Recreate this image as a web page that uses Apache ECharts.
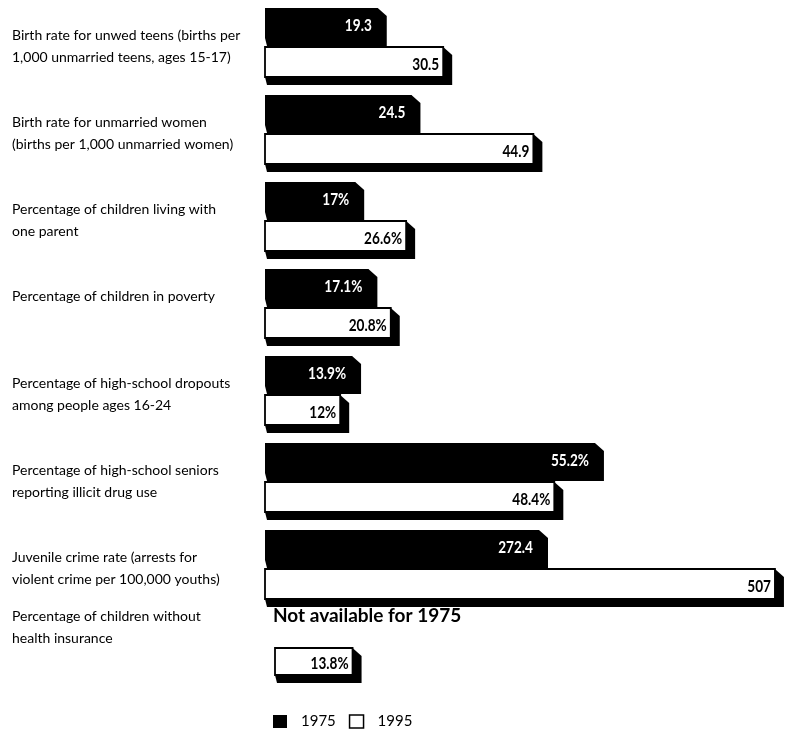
<!DOCTYPE html>
<html><head><meta charset="utf-8">
<script src="https://cdn.jsdelivr.net/npm/echarts@6/dist/echarts.min.js"></script>
<style>html,body{margin:0;padding:0;background:#fff}#c{width:792px;height:732px}</style>
</head><body><div id="c"></div><script>
// ---------- data ----------
const categories = [
  'Birth rate for unwed teens (births per\n1,000 unmarried teens, ages 15-17)',
  'Birth rate for unmarried women\n(births per 1,000 unmarried women)',
  'Percentage of children living with\none parent',
  'Percentage of children in poverty',
  'Percentage of high-school dropouts\namong people ages 16-24',
  'Percentage of high-school seniors\nreporting illicit drug use',
  'Juvenile crime rate (arrests for\nviolent crime per 100,000 youths)',
  'Percentage of children without\nhealth insurance'
];
const values1975 = [19.3, 24.5, 17, 17.1, 13.9, 55.2, 272.4, null];
const values1995 = [30.5, 44.9, 26.6, 20.8, 12, 48.4, 507, 13.8];
const labels1975 = ['19.3', '24.5', '17%', '17.1%', '13.9%', '55.2%', '272.4', ''];
const labels1995 = ['30.5', '44.9', '26.6%', '20.8%', '12%', '48.4%', '507', '13.8%'];
const rowScaleMax = [89, 87, 98, 86, 83, 87, 517, 92];
const seriesNames = ['1975', '1995'];
const noteText = 'Not available for 1975';

// ---------- layout ----------
const ROW_TOP0 = 8, ROW_PITCH = 87, GRID_W = 520;
const LABEL_FONT = "14px Lato, 'Open Sans', sans-serif";
const BAR_FONT = "bold 17px Lato, sans-serif";
function rowTop(r) { return ROW_TOP0 + ROW_PITCH * r; }
function gridTop(r) { return r < 7 ? rowTop(r) - 4.5 : 603; }
function gridLeft(r) { return r < 7 ? 265 : 275; }
function faceH(r) { return r < 7 ? 30 : 27; }

function makeRender(text, fh, dark) {
  return function (params, api) {
    const v = api.value(0), cat = api.value(1);
    const p0 = api.coord([0, cat]);
    const p1 = api.coord([v, cat]);
    const x0 = p0[0], x1 = p1[0];
    const y0 = p0[1] - fh / 2, y1 = y0 + fh;
    const dx = 9, dy = 8;
    return {
      type: 'group',
      children: [
        { type: 'polygon', shape: { points: [[x1, y0], [x1 + dx, y0 + dy], [x1 + dx, y1 + dy], [x0 + 2, y1 + dy], [x0, y1]] },
          style: { fill: '#000' } },
        { type: 'rect', shape: { x: x0, y: y0, width: x1 - x0, height: fh },
          style: dark ? { fill: '#000' } : { fill: '#fff', stroke: '#000', lineWidth: 1.8 } },
        { type: 'text', x: x1 - (dark ? 6 : 4), y: (y0 + y1) / 2 + 2.5, scaleX: 0.8,
          style: { text: text, x: 0, y: 0, align: 'right', verticalAlign: 'middle',
            fill: dark ? '#fff' : '#000', font: BAR_FONT } }
      ]
    };
  };
}

const grids = [], xAxes = [], yAxes = [], series = [], graphics = [];
categories.forEach(function (name, r) {
  grids.push({ left: gridLeft(r), top: gridTop(r), width: GRID_W, height: 78, containLabel: false });
  xAxes.push({ gridIndex: r, type: 'value', min: 0, max: rowScaleMax[r], show: false });
  yAxes.push({ gridIndex: r, type: 'category', data: seriesNames, inverse: true, show: false });
  if (values1975[r] != null) {
    series.push({ name: seriesNames[0], type: 'custom', xAxisIndex: r, yAxisIndex: r,
      itemStyle: { color: '#000' }, encode: { x: 0, y: 1 },
      renderItem: makeRender(labels1975[r], faceH(r), true), data: [[values1975[r], 0]] });
  }
  series.push({ name: seriesNames[1], type: 'custom', xAxisIndex: r, yAxisIndex: r,
    itemStyle: { color: '#fff', borderColor: '#000', borderWidth: 1.5 }, encode: { x: 0, y: 1 },
    renderItem: makeRender(labels1995[r], faceH(r), false), data: [[values1995[r], 1]] });
  graphics.push({ type: 'text', x: 12, y: r < 7 ? rowTop(r) + 16 : 605,
    style: { text: name, font: LABEL_FONT, lineHeight: 22, fill: '#000', verticalAlign: 'top' } });
});
graphics.push({ type: 'text', x: 273, y: 616,
  style: { text: noteText, font: "bold 19px Lato, sans-serif", fill: '#000', verticalAlign: 'middle' } });

const chart = echarts.init(document.getElementById('c'), null, { renderer: 'canvas' });
chart.setOption({
  backgroundColor: '#fff',
  animation: false,
  grid: grids,
  xAxis: xAxes,
  yAxis: yAxes,
  legend: {
    left: 273, top: 714, padding: 0, icon: 'rect', itemWidth: 14, itemHeight: 13, itemGap: 13,
    data: [
      { name: seriesNames[0], itemStyle: { color: '#000' } },
      { name: seriesNames[1], itemStyle: { color: '#fff', borderColor: '#000', borderWidth: 1.5 } }
    ],
    textStyle: { fontFamily: 'Lato', fontSize: 15, color: '#000', padding: [0, 0, 0, 9] }
  },
  graphic: graphics,
  series: series
});
</script></body></html>
